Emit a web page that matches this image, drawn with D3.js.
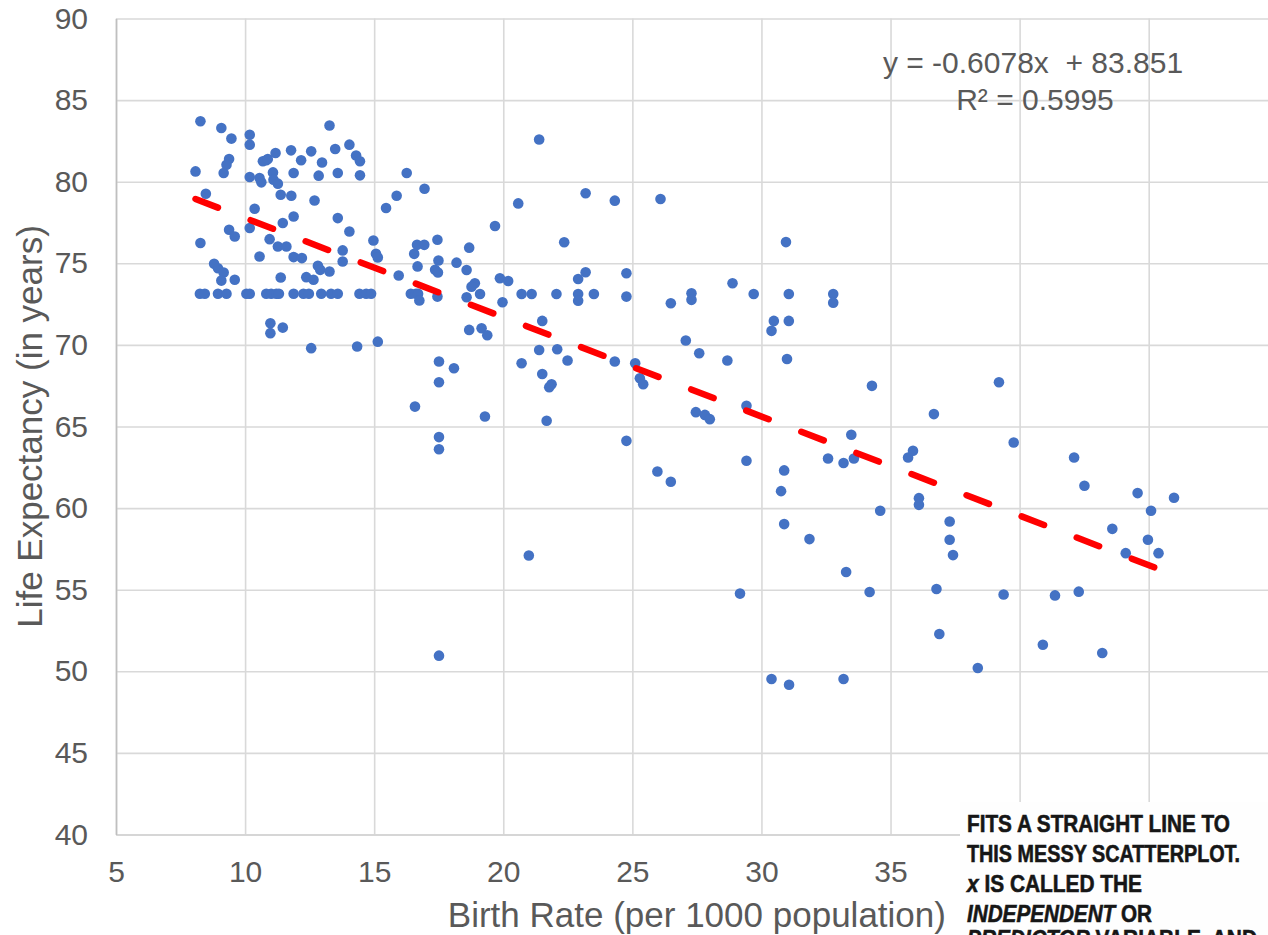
<!DOCTYPE html>
<html>
<head>
<meta charset="utf-8">
<script src="https://cdn.jsdelivr.net/npm/d3@7"></script>
<style>
  body { margin: 0; background: #fff; }
  svg { display: block; }
  text { font-family: "Liberation Sans", Arial, sans-serif; }
</style>
</head>
<body>
<svg id="chart" width="1268" height="935"></svg>
<script>
// values, one country per index
const birthRate = [
  8.27, 9.08, 9.47, 10.18, 10.18, 13.27, 8.08, 9.38, 9.28, 9.17,
  10.18, 10.82, 10.69, 10.88, 11.18, 10.56, 10.63, 11.08, 11.10, 11.27,
  11.78, 11.88, 12.17, 12.56, 12.98, 12.85, 13.59, 13.49, 14.04, 14.30,
  14.45, 14.45, 11.38, 11.79, 8.48, 12.69, 10.37, 11.88, 11.46, 10.18,
  9.38, 9.60, 8.27, 10.95, 11.27, 11.60, 10.56, 11.88, 12.20, 12.82,
  12.91, 13.27, 13.78, 13.78, 13.59, 14.04, 15.46, 15.87, 16.26, 16.95,
  14.97, 15.07, 15.14, 15.95, 16.66, 16.94, 16.55, 16.68, 17.45, 17.49,
  17.36, 17.47, 8.80, 8.95, 9.17, 9.08, 9.60, 11.38, 12.37, 12.65,
  8.25, 8.44, 8.95, 9.28, 10.05, 10.18, 10.82, 11.01, 11.21, 11.31,
  11.88, 12.26, 12.47, 12.95, 13.33, 13.59, 14.43, 14.69, 14.88, 16.42,
  16.62, 16.70, 16.75, 17.45, 10.98, 10.98, 11.46, 12.56, 14.34, 15.14,
  21.39, 20.58, 19.68, 23.19, 24.32, 26.09, 18.68, 18.19, 18.58, 22.36,
  18.90, 18.77, 19.10, 18.58, 19.87, 20.19, 19.97, 20.71, 21.10, 22.06,
  22.90, 22.90, 22.90, 23.19, 23.51, 24.77, 24.77, 26.49, 27.29, 27.29,
  28.88, 29.70, 30.48, 30.39, 18.68, 19.16, 19.38, 21.51, 21.39, 22.09,
  22.49, 20.71, 21.51, 21.87, 21.78, 24.32, 25.11, 25.29, 25.42, 27.07,
  27.59, 28.68, 27.46, 27.81, 28.00, 29.42, 17.51, 18.09, 17.51, 16.58,
  19.29, 21.68, 17.51, 17.51, 24.77, 29.42, 25.97, 26.49, 20.99, 29.17,
  17.51, 30.39, 31.06, 31.06, 32.78, 32.78, 30.99, 34.28, 36.68, 39.20,
  39.77, 33.48, 32.58, 33.18, 33.58, 35.68, 35.87, 42.11, 42.51, 44.57,
  45.98, 45.09, 43.59, 44.11, 44.97, 45.38, 30.88, 30.76, 30.88, 31.86,
  34.60, 36.10, 36.10, 37.29, 37.29, 37.42, 33.28, 34.19, 36.78, 39.38,
  41.37, 42.29, 36.89, 40.90, 43.20, 38.38, 31.07, 33.18, 30.95
];
const lifeExpectancy = [
  83.70, 83.29, 82.64, 82.88, 82.27, 83.44, 80.63, 81.39, 81.04, 80.53,
  80.29, 81.31, 81.25, 81.39, 81.76, 80.23, 79.96, 80.57, 80.12, 79.88,
  81.92, 80.53, 81.31, 81.86, 81.18, 80.37, 80.53, 82.00, 82.27, 81.60,
  81.25, 80.39, 79.20, 79.14, 79.26, 78.85, 78.34, 77.87, 77.47, 77.16,
  77.06, 76.64, 76.24, 76.48, 76.03, 76.03, 75.42, 75.38, 75.32, 74.85,
  74.60, 74.50, 75.79, 75.11, 77.77, 76.95, 78.39, 79.14, 80.53, 79.57,
  76.40, 75.58, 75.36, 74.25, 76.13, 76.13, 75.58, 74.81, 76.44, 75.17,
  74.60, 74.44, 74.97, 74.70, 74.44, 73.94, 73.99, 74.13, 74.15, 73.99,
  73.13, 73.13, 73.13, 73.13, 73.13, 73.13, 73.13, 73.13, 73.13, 73.13,
  73.13, 73.13, 73.13, 73.13, 73.13, 73.13, 73.13, 73.13, 73.13, 73.13,
  73.13, 73.13, 72.72, 72.96, 71.33, 70.72, 71.06, 69.80, 69.90, 70.20,
  82.59, 78.67, 77.29, 79.29, 78.84, 78.94, 75.96, 75.04, 74.59, 76.29,
  73.78, 73.57, 73.12, 72.92, 74.08, 73.92, 72.61, 73.12, 73.12, 73.12,
  73.12, 72.71, 74.04, 74.45, 73.12, 74.39, 72.96, 72.55, 73.16, 72.76,
  73.78, 73.12, 71.47, 70.86, 70.92, 71.02, 70.59, 71.47, 69.69, 69.73,
  69.04, 68.88, 68.22, 67.59, 67.41, 68.98, 68.88, 67.96, 67.59, 70.27,
  69.49, 69.04, 65.88, 65.71, 65.45, 66.27, 68.98, 68.57, 67.71, 66.22,
  65.61, 65.35, 64.35, 63.61, 64.12, 62.90, 62.24, 61.61, 57.10, 54.76,
  50.96, 49.53, 73.12, 71.47, 73.12, 72.59, 69.14, 67.49, 65.76, 67.71,
  64.02, 64.49, 63.04, 62.76, 63.04, 63.10, 63.51, 63.10, 61.37, 60.92,
  60.63, 59.84, 58.73, 57.24, 58.06, 57.24, 62.31, 61.04, 59.02, 58.10,
  59.84, 60.61, 60.20, 59.18, 58.06, 57.12, 56.08, 54.86, 55.04, 54.71,
  54.65, 54.88, 52.29, 51.63, 51.12, 50.20, 49.18, 49.53, 76.30
];

const xTicks = [5, 10, 15, 20, 25, 30, 35, 40, 45, 50];
const xLabelled = [5, 10, 15, 20, 25, 30, 35]; // the rest sit under the caption
const yTicks = [40, 45, 50, 55, 60, 65, 70, 75, 80, 85, 90];

// Excel trendline label
const slope = -0.6078;
const intercept = 83.851;
const rSquared = 0.5995;

const noteLines = [
  [{ t: "FITS A STRAIGHT LINE TO" }],
  [{ t: "THIS MESSY SCATTERPLOT." }],
  [{ t: "x", i: true }, { t: " IS CALLED THE" }],
  [{ t: "INDEPENDENT", i: true }, { t: " OR" }],
  [{ t: "PREDICTOR", i: true }, { t: " VARIABLE, AND" }]
];
const noteWidths = [263, 273, 175, 185, 290];
const noteBaselines = [832, 862, 892, 922, 947];

const width = 1268, height = 935;
const svg = d3.select("#chart");

const x = d3.scaleLinear().domain([5, 50]).range([116, 1277.8]);
const y = d3.scaleLinear().domain([40, 90]).range([834.5, 18.5]);

const grey = "#595959";

// x axis + vertical grid
let xAxis = svg.append("g")
  .attr("transform", `translate(0,${y(40)})`)
  .call(d3.axisBottom(x).tickValues(xTicks).tickSize(-(y(40) - y(90)))
    .tickSizeOuter(0).tickPadding(26)
    .tickFormat(d => xLabelled.includes(d) ? d3.format("d")(d) : ""));

// y axis + horizontal grid
let yAxis = svg.append("g")
  .attr("transform", `translate(${x(5)},0)`)
  .call(d3.axisLeft(y).tickValues(yTicks).tickSize(-(x(50) - x(5)))
    .tickSizeOuter(0).tickPadding(28).tickFormat(d3.format("d")));

svg.selectAll(".tick line").attr("stroke", "#d9d9d9").attr("stroke-width", 1.6);
svg.selectAll(".tick text")
  .attr("fill", grey)
  .style("font-size", "30px");
xAxis.select(".domain").attr("stroke", "#bfbfbf").attr("stroke-width", 1.6).raise();
yAxis.select(".domain").attr("stroke", "#bfbfbf").attr("stroke-width", 1.6).raise();

// axis titles
svg.append("text")
  .attr("x", (x(5) + x(50)) / 2)
  .attr("y", 927)
  .attr("text-anchor", "middle")
  .attr("fill", grey)
  .style("font-size", "35px")
  .text("Birth Rate (per 1000 population)");

svg.append("text")
  .attr("transform", `translate(42,${(y(40) + y(90)) / 2}) rotate(-90)`)
  .attr("text-anchor", "middle")
  .attr("fill", grey)
  .style("font-size", "35px")
  .text("Life Expectancy (in years)");

// points
const points = birthRate.map((b, i) => ({ b, l: lifeExpectancy[i] }));
svg.append("g")
  .selectAll("circle")
  .data(points)
  .join("circle")
  .attr("cx", d => x(d.b))
  .attr("cy", d => y(d.l))
  .attr("r", 5.3)
  .attr("fill", "#4472C4");

// linear trendline over the data range
const [bMin, bMax] = d3.extent(birthRate);
svg.append("line")
  .attr("x1", x(bMin))
  .attr("y1", y(slope * bMin + intercept))
  .attr("x2", x(bMax))
  .attr("y2", y(slope * bMax + intercept))
  .attr("stroke", "#ff0000")
  .attr("stroke-width", 6.5)
  .attr("stroke-linecap", "round")
  .attr("stroke-dasharray", "24 35");

// equation label
const eq = svg.append("g").attr("fill", grey).style("font-size", "30px")
  .attr("text-anchor", "middle");
eq.append("text")
  .attr("x", 1033).attr("y", 73)
  .style("white-space", "pre")
  .text(`y = ${slope}x  + ${intercept}`);
eq.append("text")
  .attr("x", 1035).attr("y", 110)
  .text(`R² = ${rSquared}`);

// comic caption pasted over the corner
svg.append("rect")
  .attr("x", 960).attr("y", 802)
  .attr("width", width - 960).attr("height", height - 802)
  .attr("fill", "#fefefe");

const note = svg.append("g")
  .attr("fill", "#161616")
  .attr("stroke", "#161616")
  .attr("stroke-width", 0.6)
  .style("font-family", "'Liberation Sans Narrow', 'DejaVu Sans Condensed', sans-serif")
  .style("font-weight", "bold")
  .style("font-size", "24px");

noteLines.forEach((parts, i) => {
  const t = note.append("text")
    .attr("x", 967)
    .attr("y", noteBaselines[i])
    .attr("textLength", noteWidths[i])
    .attr("lengthAdjust", "spacingAndGlyphs")
    .style("white-space", "pre");
  parts.forEach(p => {
    t.append("tspan")
      .style("font-style", p.i ? "italic" : "normal")
      .text(p.t);
  });
});
</script>
</body>
</html>
